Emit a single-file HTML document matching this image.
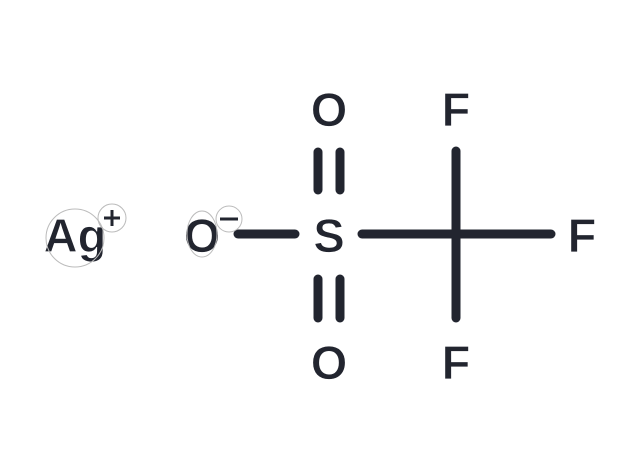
<!DOCTYPE html>
<html><head><style>html,body{margin:0;padding:0;background:#fff;}</style></head>
<body>
<svg width="640" height="470" viewBox="0 0 640 470" xmlns="http://www.w3.org/2000/svg">
<rect width="640" height="470" fill="#fff"/>
<g stroke="#22252f" stroke-width="9" stroke-linecap="round" fill="none">
<line x1="238" y1="234" x2="295" y2="234"/>
<line x1="362" y1="234" x2="551" y2="234"/>
<line x1="456" y1="151" x2="456" y2="318"/>
<line x1="318" y1="152" x2="318" y2="190"/>
<line x1="340" y1="152" x2="340" y2="190"/>
<line x1="318" y1="279" x2="318" y2="318"/>
<line x1="340" y1="279" x2="340" y2="318"/>
</g>
<g fill="#22252f" font-family="Liberation Sans, sans-serif" font-size="47" font-weight="bold" text-anchor="middle" stroke="#fff" stroke-width="0.8">
<text x="329" y="126">O</text>
<text x="329" y="252">S</text>
<text x="456" y="126">F</text>
<text x="582" y="252">F</text>
<text x="456" y="379">F</text>
<text x="329" y="379">O</text>
<text x="75" y="252">Ag</text>
<text x="202" y="252">O</text>
</g>
<g fill="none" stroke="#bbb" stroke-width="1">
<circle cx="75" cy="238" r="29"/>
<circle cx="112" cy="218" r="14"/>
<ellipse cx="202" cy="234" rx="15" ry="23"/>
<circle cx="229" cy="219" r="13"/>
</g>
<g stroke="#22252f" stroke-width="3">
<line x1="104" y1="218" x2="120" y2="218"/>
<line x1="112" y1="210" x2="112" y2="226"/>
<line x1="220" y1="219" x2="238" y2="219"/>
</g>
</svg>
</body></html>
